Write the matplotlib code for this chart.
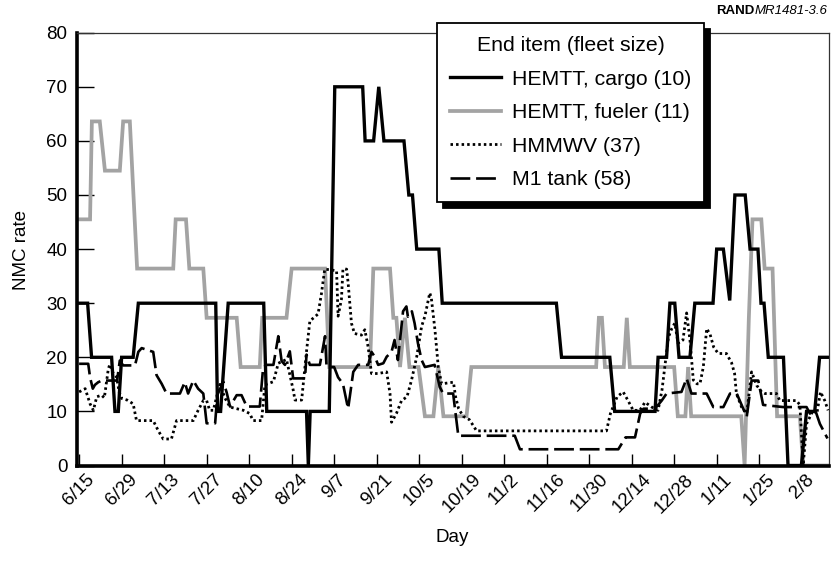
import matplotlib
matplotlib.use("Agg")
import matplotlib.pyplot as plt

plt.rcParams['font.family'] = ['Liberation Sans', 'DejaVu Sans']

# ---------------- data (day index: 0 = 6/15) ----------------
tick_days = [0, 14, 28, 42, 56, 70, 84, 98, 112, 126, 140, 154, 168, 182, 196, 210, 224, 238]
tick_labels = ['6/15', '6/29', '7/13', '7/27', '8/10', '8/24', '9/7', '9/21', '10/5',
               '10/19', '11/2', '11/16', '11/30', '12/14', '12/28', '1/11', '1/25', '2/8']
y_ticks = [0, 10, 20, 30, 40, 50, 60, 70, 80]

cargo_day = [0, 2.8, 4.1, 10.7, 11.8, 12.9, 14, 17.8, 19.5, 45,
             45.6, 46.6, 49.1, 60.8, 61.8, 74.9, 75.5, 76.1, 82.4, 84.2,
             93.4, 94.2, 97, 98.7, 100.4, 107, 108.6, 109.8, 111.2, 118.5,
             119.6, 157.2, 158.9, 174.8, 176.4, 189.7, 190.7, 193.5, 194.6, 196.2,
             197.6, 201.2, 202.8, 208.8, 210, 212.2, 214.3, 216, 219.4, 221,
             223.6, 224.6, 225.6, 227, 232, 233.5, 237.9, 239.6, 242.3, 243.9,
             246.7]
cargo_val = [30, 30, 20, 20, 10, 10, 20, 20, 30, 30,
             10, 10, 30, 30, 10, 10, 0, 10, 10, 70,
             70, 60, 60, 70, 60, 60, 50, 50, 40, 40,
             30, 30, 20, 20, 10, 10, 20, 20, 30, 30,
             20, 20, 30, 30, 40, 40, 30.5, 50, 50, 40,
             40, 30, 30, 20, 20, 0, 0, 10, 10, 20,
             20]

fueler_day = [0, 3.6, 4.2, 6.8, 8.5, 13.4, 14.5, 16.7, 19.1, 31,
              31.8, 35.2, 36.3, 40.9, 42, 51.9, 53.2, 59.5, 60.3, 68.3,
              70, 81, 82.4, 95.8, 96.9, 102.4, 103.5, 104.5, 105.7, 107.3,
              108.8, 111.8, 113.9, 116.7, 118.3, 120, 127.6, 129.2, 170.3, 171.2,
              172.2, 173.2, 179.4, 180.4, 181.4, 196, 197.2, 199.7, 200.6, 201.6,
              218.1, 219.2, 220.6, 221.8, 224.7, 225.8, 228.4, 229.9, 237.4, 238.5,
              246.7]
fueler_val = [45.5, 45.5, 63.6, 63.6, 54.5, 54.5, 63.6, 63.6, 36.4, 36.4,
              45.5, 45.5, 36.4, 36.4, 27.3, 27.3, 18.2, 18.2, 27.3, 27.3,
              36.4, 36.4, 18.2, 18.2, 36.4, 36.4, 27.3, 27.3, 18.2, 27.3,
              18.2, 18.2, 9.1, 9.1, 18.2, 9.1, 9.1, 18.2, 18.2, 27.3,
              27.3, 18.2, 18.2, 27.3, 18.2, 18.2, 9.1, 9.1, 18.2, 9.1,
              9.1, 0, 27.3, 45.5, 45.5, 36.4, 36.4, 9.1, 9.1, 0,
              0]

hmmwv_day = [0, 2, 3.6, 4.7, 5.8, 7.4, 8.3, 9.6, 10.1, 11.2,
             12.3, 13.2, 14, 15.8, 17.8, 18.9, 24.4, 26.1, 27.7, 30.4,
             32.1, 37.6, 39.2, 40.9, 42, 43, 44.2, 45.3, 46.4, 48,
             49.7, 54.1, 56.2, 57.3, 60.1, 61.2, 64, 65.6, 68.3, 70.5,
             71.1, 73.3, 74.9, 76, 78.7, 79.8, 80.9, 84.8, 85.3, 86.4,
             86.9, 88.1, 88.6, 89.7, 90.7, 93, 94.1, 95.2, 96.3, 98.5,
             101.3, 102.4, 102.9, 104.5, 106.2, 108, 109.5, 111.2, 112.8, 113.9,
             115.5, 116, 117.2, 118.3, 119.4, 123.3, 124, 125, 126.5, 128.5,
             129.8, 130.9, 173.7, 175, 177.2, 179.2, 180.8, 182.5, 184.7, 186.4,
             188.6, 190.7, 192, 192.9, 194.1, 195.2, 196.2, 197.3, 198.9, 200.1,
             201.2, 202.3, 203.5, 204.5, 205.6, 206.7, 207.8, 209, 210.5, 213.2,
             214.9, 215.9, 216.5, 218.2, 219.9, 221.5, 223.2, 224.8, 225.9, 229.7,
             230.8, 236.3, 237.4, 238.5, 239.6, 241.8, 243, 244.2, 245.6, 246.7]
hmmwv_val = [13.6, 14.2, 11.4, 10.2, 12.7, 13.0, 12.5, 17.8, 18.7, 17.1,
             16.4, 13.6, 12.4, 12.1, 11.4, 8.3, 8.3, 6.4, 4.9, 4.9,
             8.3, 8.3, 10.2, 12.0, 12.0, 10.2, 10.2, 12.7, 15.0, 12.5,
             10.8, 10.2, 9.6, 8.3, 8.3, 14.9, 15.5, 18.9, 19.6, 14,
             12.1, 12.1, 21.1, 26.7, 28, 31.7, 36.3, 36, 27.6, 30.7,
             36.3, 36.3, 33.8, 26.3, 24.4, 24.1, 25.1, 21.9, 17.0, 17.0,
             17.3, 13.3, 8.0, 9.6, 12.0, 12.7, 15.8, 20.1, 25.7, 27.6,
             31.9, 31, 25.1, 18.2, 15.1, 15.4, 12.7, 10.5, 9.1, 8.5,
             7.4, 6.4, 6.4, 9.6, 12.7, 13.6, 12.0, 10.2, 10.2, 11.7,
             10.8, 10.2, 14, 18.2, 23.7, 25.3, 26.3, 22.6, 23.2, 28.2,
             23.2, 15.8, 15.1, 15.1, 18.2, 25.3, 24.3, 21.9, 20.7, 20.7,
             19.0, 17, 13.3, 10.8, 9.6, 17.3, 14.8, 13.6, 13.3, 13.3,
             12.0, 12.0, 11.2, 0, 7.7, 10.2, 9.6, 13.6, 12, 10.2]

m1_day = [0, 3, 3.6, 4.5, 5.2, 6.3, 7.5, 12.5, 13.4, 14.5,
          18.4, 19.5, 20.6, 24.4, 25.5, 27.2, 28.8, 33.2, 34.8, 35.9,
          37.6, 39.2, 40.9, 42, 44.8, 45.5, 47.5, 48.6, 49.7, 51.9,
          53.5, 55.2, 59.5, 60.6, 61.7, 64, 65.6, 66.7, 67.8, 69.4,
          70.5, 74.4, 74.9, 76, 79.3, 81, 81.5, 84, 85.3, 86.9,
          88.6, 90.3, 91.9, 95.2, 96.3, 97.4, 98.5, 100.2, 101.3, 102.9,
          103.9, 105, 106.7, 107.8, 108.3, 109.6, 110.5, 111.6, 112.8, 113.9,
          117.1, 118.8, 119.9, 123.2, 123.8, 124.9, 143.5, 145.2, 177.6, 180,
          183.1, 184.8, 185.9, 189.7, 191.9, 193.5, 198.4, 200.1, 201.7, 206.7,
          208.9, 212.2, 214.4, 216.6, 219.9, 221.5, 223.7, 225.3, 231.9, 239.6,
          240.7, 242.3, 244, 246.5]
m1_val = [18.8, 18.8, 16.3, 14.2, 14.9, 15.4, 15.7, 15.7, 19.4, 18.5,
          18.5, 21.0, 21.7, 21.0, 16.7, 15.1, 13.3, 13.3, 15.4, 13.3,
          15.7, 14.2, 13.3, 7.8, 7.8, 13, 15.5, 13.5, 10.9, 13,
          13, 10.9, 10.9, 18, 18.6, 18.6, 23.9, 19.3, 18.6, 21.1,
          16.1, 16.1, 20.5, 18.6, 18.6, 23.9, 18.2, 18.2, 16.3, 15.1,
          10.5, 17.3, 18.6, 18.6, 21.0, 20.1, 18.6, 18.9, 20.1, 21.0,
          23.2, 19.5, 28.5, 29.4, 27.5, 28.5, 26.3, 22.6, 19.5, 18.2,
          18.6, 14.5, 13.3, 13.3, 10.5, 5.5, 5.5, 3.0, 3.0, 5.2,
          5.2, 9.6, 10.5, 10.5, 12.0, 13.3, 13.6, 16.1, 13.3, 13.3,
          10.8, 10.8, 13.3, 13.3, 9.0, 15.7, 15.7, 11.2, 10.8, 10.8,
          9.6, 10.5, 7.7, 5.0]

series_names = ['HEMTT, cargo (10)', 'HEMTT, fueler (11)', 'HMMWV (37)', 'M1 tank (58)']

# ---------------- figure ----------------
W, H = 832, 562
fig = plt.figure(figsize=(W / 100, H / 100), dpi=100)
ax = fig.add_axes([77 / W, 1 - 465.5 / H, (829 - 77) / W, (465.5 - 32.7) / H])

gray = '#a3a3a3'
dot_style = (0, (0.9, 1.1))
dash_style = (0, (7.5, 2.2))

l_fuel, = ax.plot(fueler_day, fueler_val, color=gray, lw=2.7, solid_joinstyle='miter', zorder=2)
l_hmm, = ax.plot(hmmwv_day, hmmwv_val, color='black', lw=2.0, linestyle=dot_style, zorder=3)
l_m1, = ax.plot(m1_day, m1_val, color='black', lw=1.9, linestyle=dash_style, zorder=3)
l_cargo, = ax.plot(cargo_day, cargo_val, color='black', lw=2.4, solid_joinstyle='miter', zorder=4)

ax.set_xlim(-0.7, 247)
ax.set_ylim(0, 80)
ax.set_xticks(tick_days)
ax.set_xticklabels(tick_labels, rotation=45, ha='center', va='top', fontsize=13.5)
ax.set_yticks(y_ticks)
ax.set_yticklabels([str(v) for v in y_ticks], fontsize=13.5)
ax.tick_params(axis='y', direction='in', length=12.5, width=1.0, pad=7, color='black')
ax.tick_params(axis='x', direction='in', length=9, width=1.0, pad=4, color='black')

for s in ['left', 'bottom']:
    ax.spines[s].set_linewidth(2.6)
    ax.spines[s].set_color('black')
for s in ['top', 'right']:
    ax.spines[s].set_linewidth(0.9)
    ax.spines[s].set_color('#333333')

fig.text(22 / W, 1 - 250 / H, 'NMC rate', rotation=90, ha='center', va='center', fontsize=13.5)
fig.text(452 / W, 1 - 537 / H, 'Day', ha='center', va='center', fontsize=13.5)

leg = ax.legend([l_cargo, l_fuel, l_hmm, l_m1], series_names,
                title='End item (fleet size)', loc='upper left',
                bbox_to_anchor=(437 / W, 1 - 23 / H), bbox_transform=fig.transFigure,
                borderaxespad=0, fontsize=15.3, title_fontsize=15.3,
                handlelength=2.4, handletextpad=0.5, labelspacing=0.68,
                borderpad=0.62, fancybox=False, framealpha=1,
                edgecolor='black',
                shadow={'ox': 4, 'oy': -4, 'facecolor': 'black', 'edgecolor': 'black', 'alpha': 1})
leg.get_frame().set_linewidth(1.3)
leg.set_zorder(10)

# source tag
t_it = fig.text(827 / W, 1 - 11 / H, 'MR1481-3.6', ha='right', va='center',
                fontsize=9.5, style='italic')
fig.canvas.draw()
bb = t_it.get_window_extent()
fig.text(bb.x0 / W, 1 - 11 / H, 'RAND', ha='right', va='center',
         fontsize=9.5, weight='bold')

fig.savefig('out.png', dpi=100)
